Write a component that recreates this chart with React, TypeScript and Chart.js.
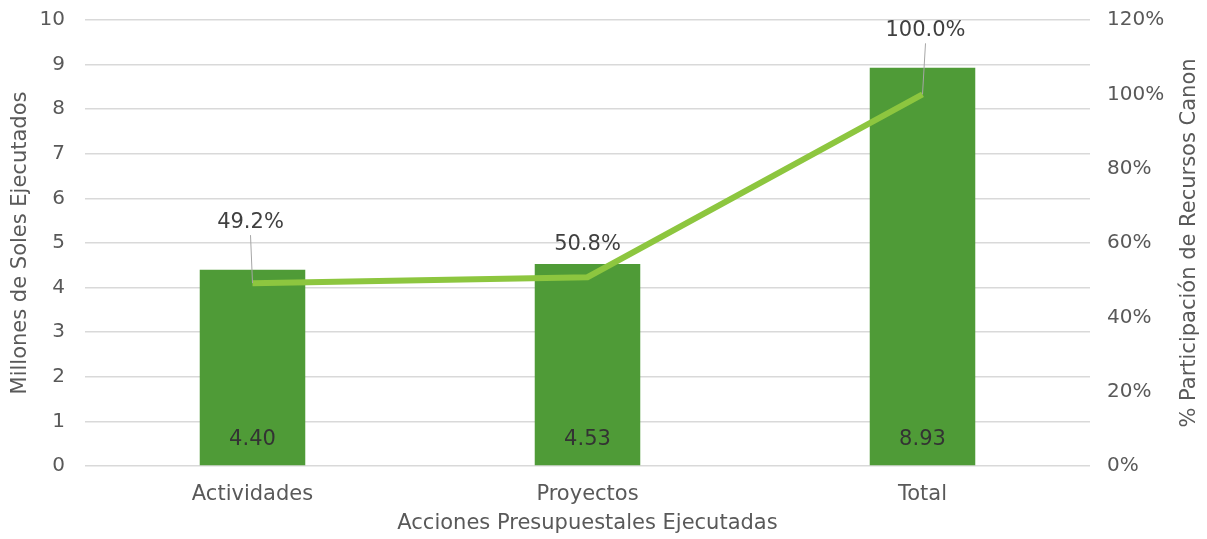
import React, { useEffect, useRef } from "react";
import { Chart, registerables } from "chart.js";

Chart.register(...registerables);

const categories = ["Actividades", "Proyectos", "Total"];
const soles = [4.4, 4.53, 8.93];
const soleLabels = ["4.40", "4.53", "8.93"];
const participacion = [49.2, 50.8, 100.0];
const participacionLabels = ["49.2%", "50.8%", "100.0%"];
const rightTitle = "% Participación de Recursos Canon";

const FONT = "'DejaVu Sans', sans-serif";
const TXT = "#595959";

const labelsPlugin = {
  id: "customLabels",
  afterDatasetsDraw(chart: any, _args: any, opts: any) {
    const ctx = chart.ctx;
    ctx.save();
    ctx.font = `21px ${FONT}`;
    ctx.textAlign = "center";
    ctx.textBaseline = "middle";
    const barMeta = chart.getDatasetMeta(1);
    barMeta.data.forEach((bar: any, i: number) => {
      ctx.fillStyle = "#333333";
      ctx.fillText(soleLabels[i], bar.x, bar.base - 26);
    });
    const lineMeta = chart.getDatasetMeta(0);
    const offsets = opts.offsets || [];
    lineMeta.data.forEach((pt: any, i: number) => {
      const off = offsets[i] || { dx: 0, dy: -30, leader: false };
      const lx = pt.x + off.dx;
      const ly = pt.y + off.dy;
      if (off.leader) {
        ctx.strokeStyle = "#a6a6a6";
        ctx.lineWidth = 1;
        ctx.beginPath();
        ctx.moveTo(lx, ly + 13);
        ctx.lineTo(pt.x, pt.y);
        ctx.stroke();
      }
      ctx.fillStyle = "#404040";
      ctx.fillText(participacionLabels[i], lx, ly);
    });
    const area = chart.chartArea;
    ctx.translate(opts.rightTitleX, (area.top + area.bottom) / 2);
    ctx.rotate(-Math.PI / 2);
    ctx.fillStyle = TXT;
    ctx.font = `21px ${FONT}`;
    ctx.fillText(rightTitle, 0, 0);
    ctx.restore();
  },
};

export default function App() {
  const ref = useRef<HTMLCanvasElement>(null);
  useEffect(() => {
    if (!ref.current) return;
    const chart = new Chart(ref.current, {
      type: "bar",
      data: {
        labels: categories,
        datasets: [
          {
            type: "line",
            label: "% Participación",
            data: participacion,
            yAxisID: "y1",
            borderColor: "#8dc63f",
            borderWidth: 6,
            pointRadius: 0,
            tension: 0,
            order: 0,
          } as any,
          {
            type: "bar",
            label: "Millones de Soles",
            data: soles,
            yAxisID: "y",
            backgroundColor: "#4f9b37",
            categoryPercentage: 1,
            barPercentage: 0.315,
            order: 1,
          },
        ],
      },
      options: {
        animation: false,
        responsive: true,
        maintainAspectRatio: false,
        layout: { padding: { top: 12, left: 0, right: 0, bottom: 0 } },
        plugins: {
          legend: { display: false },
          tooltip: { enabled: false },
          customLabels: {
            offsets: [
              { dx: -2, dy: -61, leader: true },
              { dx: 0, dy: -33, leader: false },
              { dx: 3, dy: -64, leader: true },
            ],
            rightTitleX: 1182,
          },
        } as any,
        scales: {
          x: {
            grid: { display: false, drawTicks: false },
            border: { display: false },
            ticks: {
              color: TXT,
              font: { family: FONT, size: 21 },
              padding: 16,
            },
            title: {
              display: true,
              text: "Acciones Presupuestales Ejecutadas",
              color: TXT,
              font: { family: FONT, size: 21 },
              padding: { top: 0, bottom: 3 },
            },
            afterFit: (s: any) => {
              s.height = 73;
            },
          },
          y: {
            position: "left",
            min: 0,
            max: 10,
            ticks: {
              stepSize: 1,
              color: TXT,
              font: { family: FONT, size: 20 },
              padding: 20,
            },
            grid: { color: "#d9d9d9", lineWidth: 1.5, drawTicks: false },
            border: { display: false },
            title: {
              display: true,
              text: "Millones de Soles Ejecutados",
              color: TXT,
              font: { family: FONT, size: 21 },
              padding: 0,
            },
            afterFit: (s: any) => {
              s.width = 77;
              s.paddingTop = 0;
              s.paddingBottom = 0;
            },
          },
          y1: {
            position: "right",
            min: 0,
            max: 120,
            ticks: {
              stepSize: 20,
              color: TXT,
              font: { family: FONT, size: 20 },
              padding: 17,
              callback: (v: any) => `${v}%`,
            },
            grid: { display: false, drawTicks: false },
            border: { display: false },
            title: { display: false },
            afterFit: (s: any) => {
              s.width = 109;
              s.paddingTop = 0;
              s.paddingBottom = 0;
            },
          },
        },
      },
      plugins: [labelsPlugin],
    });
    return () => chart.destroy();
  }, []);
  return (
    <div style={{ width: 1191, height: 531, position: "relative" }}>
      <canvas ref={ref} />
    </div>
  );
}
